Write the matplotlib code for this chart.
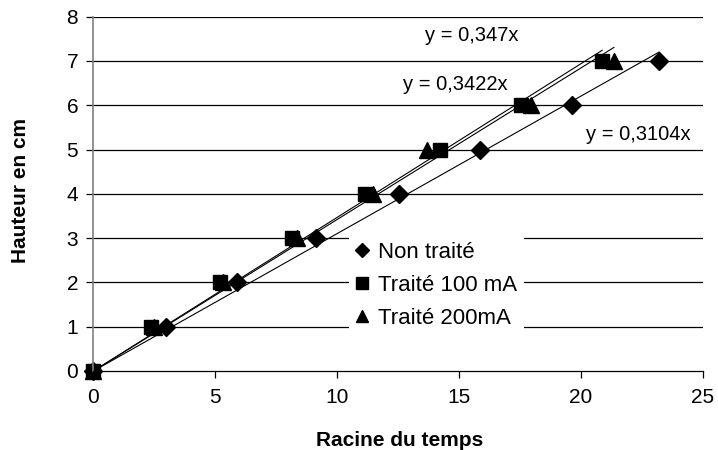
import numpy as np
import matplotlib
matplotlib.use("Agg")
import matplotlib.pyplot as plt

plt.rcParams["font.family"] = ["Liberation Sans", "DejaVu Sans"]

# Racine du temps (x) et hauteur (y)
hauteur = [0, 1, 2, 3, 4, 5, 6, 7]
x_non_traite = [0, 2.96, 5.88, 9.12, 12.52, 15.87, 19.64, 23.2]
x_traite_100 = [0, 2.36, 5.17, 8.14, 11.15, 14.23, 17.52, 20.87]
x_traite_200 = [0, 2.5, 5.3, 8.34, 11.48, 13.68, 17.93, 21.35]

pentes = {"non": 0.3104, "100": 0.347, "200": 0.3422}
labels_eq = ["y = 0,347x", "y = 0,3422x", "y = 0,3104x"]

fig = plt.figure(figsize=(7.18, 4.5), dpi=100)
ax = fig.add_axes([0.1302, 0.1756, 0.979 - 0.1302, 0.9629 - 0.1756])

# grille horizontale
for yv in range(1, 9):
    ax.axhline(yv, color="black", lw=0.9, zorder=1)

# courbes de tendance (passant par l'origine)
for xs, k in [(x_non_traite, "non"), (x_traite_100, "100"), (x_traite_200, "200")]:
    xx = np.array([0, max(xs)])
    ax.plot(xx, pentes[k] * xx, color="black", lw=0.8, zorder=2)

ax.plot(x_non_traite, hauteur, "D", color="black", ms=9, ls="none",
        label="Non traité", zorder=3, clip_on=False)
ax.plot(x_traite_100, hauteur, "s", color="black", ms=10.5, ls="none",
        label="Traité 100 mA", zorder=3, clip_on=False)
ax.plot(x_traite_200, hauteur, "^", color="black", ms=11.5, ls="none",
        label="Traité 200mA", zorder=3, clip_on=False)

ax.text(15.5, 7.58, labels_eq[0], fontsize=14.5, ha="center", va="center")
ax.text(14.84, 6.46, labels_eq[1], fontsize=14.5, ha="center", va="center")
ax.text(22.36, 5.33, labels_eq[2], fontsize=14.5, ha="center", va="center")

ax.set_xlim(0, 25)
ax.set_ylim(0, 8)
ax.set_xticks([0, 5, 10, 15, 20, 25])
ax.set_yticks(range(0, 9))
ax.tick_params(labelsize=15, direction="out", length=5, width=0.9, color="black")
ax.tick_params(axis="x", pad=7)
ax.tick_params(axis="y", pad=6)

for s in ["top", "right"]:
    ax.spines[s].set_visible(False)
ax.spines["left"].set_color("#808080")
ax.spines["left"].set_linewidth(1.2)
ax.spines["bottom"].set_linewidth(0.9)
ax.spines["left"].set_zorder(4)
ax.spines["bottom"].set_zorder(4)

ax.set_xlabel("Racine du temps", fontsize=15, fontweight="bold")
ax.set_ylabel("Hauteur en cm", fontsize=15, fontweight="bold")
ax.xaxis.label.set_va("center")
ax.yaxis.label.set_va("center")
ax.xaxis.set_label_coords((400 - 93.5) / 609.5, (371 - 441) / 354.3)
ax.yaxis.set_label_coords((21 - 93.5) / 609.5, (371 - 191) / 354.3)

leg = ax.legend(loc="upper left", bbox_to_anchor=(349 / 718, 1 - 235 / 450),
                bbox_transform=fig.transFigure, frameon=True, fancybox=False,
                framealpha=1, facecolor="white", edgecolor="none", fontsize=16,
                handlelength=0.6, handletextpad=0.4, markerscale=0.8,
                labelspacing=0.55, borderpad=0.3, borderaxespad=0)
leg.set_zorder(5)

fig.savefig("out.png", dpi=100)
